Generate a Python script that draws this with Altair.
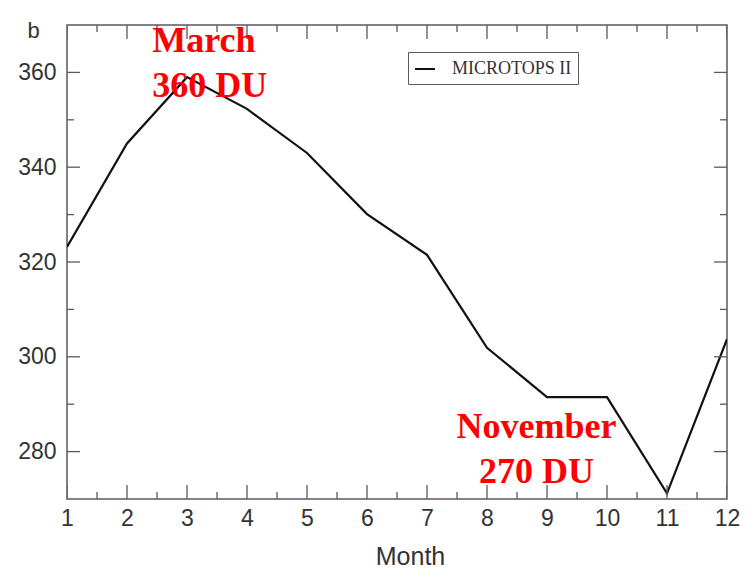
import altair as alt
import pandas as pd

# ---- data ----
MONTHS = list(range(1, 13))
OZONE_DU = [323.2, 345.0, 359.0, 352.3, 343.0, 330.1, 321.5, 301.9, 291.5, 291.5, 271.2, 303.7]
SERIES = "MICROTOPS II"

X_DOMAIN = [1, 12]
Y_DOMAIN = [270, 370]
X_MAJOR = list(range(1, 13))
X_MINOR = [1.5, 2.5, 3.5, 4.5, 5.5, 6.5, 7.5, 8.5, 9.5, 10.5, 11.5]
Y_MAJOR = [280, 300, 320, 340, 360]
Y_MINOR = [290, 310, 330, 350]

NOTE_MAX_TEXT = ["March\n360 DU"]
NOTE_MAX_X = [2.42]
NOTE_MAX_Y = [364.4]
NOTE_MIN_TEXT = ["November\n270 DU"]
NOTE_MIN_X = [8.825]
NOTE_MIN_Y = [282.8]

FRAME = "#5a5a5a"
TXT = "#333333"
SANS = "Liberation Sans"
SERIF = "Liberation Serif"

xs = alt.Scale(domain=X_DOMAIN, nice=False, zero=False)
ys = alt.Scale(domain=Y_DOMAIN, nice=False, zero=False)

X_AXIS = alt.Axis(
    values=X_MAJOR, format="d", title="Month", domain=False, ticks=False, grid=False,
    labelFlush=False, labelOverlap=False, labelFont=SANS, labelFontSize=23, labelColor=TXT,
    labelPadding=8, titleFont=SANS, titleFontSize=25, titleFontWeight="normal",
    titleColor=TXT, titleBaseline="alphabetic", titleY=65, titleX=343, titleAlign="center")
Y_AXIS = alt.Axis(
    values=Y_MAJOR, format="d", title="b", domain=False, ticks=False, grid=False,
    labelFlush=False, labelOverlap=False, labelFont=SANS, labelFontSize=23, labelColor=TXT,
    labelPadding=11, titleFont=SANS, titleFontSize=22, titleFontWeight="normal",
    titleColor=TXT, titleAngle=0, titleAlign="left", titleBaseline="alphabetic",
    titleX=-40, titleY=12)

line_df = pd.DataFrame({"month": MONTHS, "du": OZONE_DU, "series": [SERIES] * len(MONTHS)})

line = alt.Chart(line_df).mark_line(strokeWidth=2.2, clip=True).encode(
    x=alt.X("month:Q", scale=xs, axis=X_AXIS),
    y=alt.Y("du:Q", scale=ys, axis=Y_AXIS),
    color=alt.Color("series:N", scale=alt.Scale(range=["#111111"]), legend=alt.Legend(
        orient="none", legendX=341, legendY=27, title=None, symbolType="stroke",
        symbolSize=400, symbolStrokeWidth=2, labelFont=SERIF, labelFontSize=18,
        labelColor=TXT, strokeColor=FRAME, fillColor="white", padding=6, labelOffset=16)),
)


def tick_layer(values, fixed, along_x, length):
    if along_x:
        df = pd.DataFrame({"x": values, "y": [fixed] * len(values)})
        orient = "vertical"
    else:
        df = pd.DataFrame({"y": values, "x": [fixed] * len(values)})
        orient = "horizontal"
    return alt.Chart(df).mark_tick(
        orient=orient, size=2 * length, thickness=1.3, color=FRAME, clip=True, opacity=1
    ).encode(
        x=alt.X("x:Q", scale=xs, axis=X_AXIS),
        y=alt.Y("y:Q", scale=ys, axis=Y_AXIS),
    )


ticks = [
    tick_layer(X_MAJOR, Y_DOMAIN[0], True, 14),
    tick_layer(X_MINOR, Y_DOMAIN[0], True, 7),
    tick_layer(X_MAJOR, Y_DOMAIN[1], True, 14),
    tick_layer(X_MINOR, Y_DOMAIN[1], True, 7),
    tick_layer(Y_MAJOR, X_DOMAIN[0], False, 13),
    tick_layer(Y_MINOR, X_DOMAIN[0], False, 7),
    tick_layer(Y_MAJOR, X_DOMAIN[1], False, 13),
    tick_layer(Y_MINOR, X_DOMAIN[1], False, 7),
]

note_max = alt.Chart(pd.DataFrame({"x": NOTE_MAX_X, "y": NOTE_MAX_Y, "t": NOTE_MAX_TEXT})).mark_text(
    font=SERIF, fontWeight="bold", fontSize=36, color="#ff0000", align="left",
    baseline="alphabetic", lineBreak="\n", lineHeight=45,
).encode(x=alt.X("x:Q", scale=xs, axis=X_AXIS), y=alt.Y("y:Q", scale=ys, axis=Y_AXIS), text="t:N")

note_min = alt.Chart(pd.DataFrame({"x": NOTE_MIN_X, "y": NOTE_MIN_Y, "t": NOTE_MIN_TEXT})).mark_text(
    font=SERIF, fontWeight="bold", fontSize=36, color="#ff0000", align="center",
    baseline="alphabetic", lineBreak="\n", lineHeight=45,
).encode(x=alt.X("x:Q", scale=xs, axis=X_AXIS), y=alt.Y("y:Q", scale=ys, axis=Y_AXIS), text="t:N")

chart = alt.layer(line, *ticks, note_max, note_min).properties(
    width=660, height=474,
    autosize=alt.AutoSizeParams(type="none"),
    padding={"left": 59, "top": 17, "right": 16, "bottom": 69},
    background="white",
).configure_view(stroke=FRAME, strokeWidth=1.5)

chart.save("out.html", embed_options={"renderer": "svg", "actions": False})
